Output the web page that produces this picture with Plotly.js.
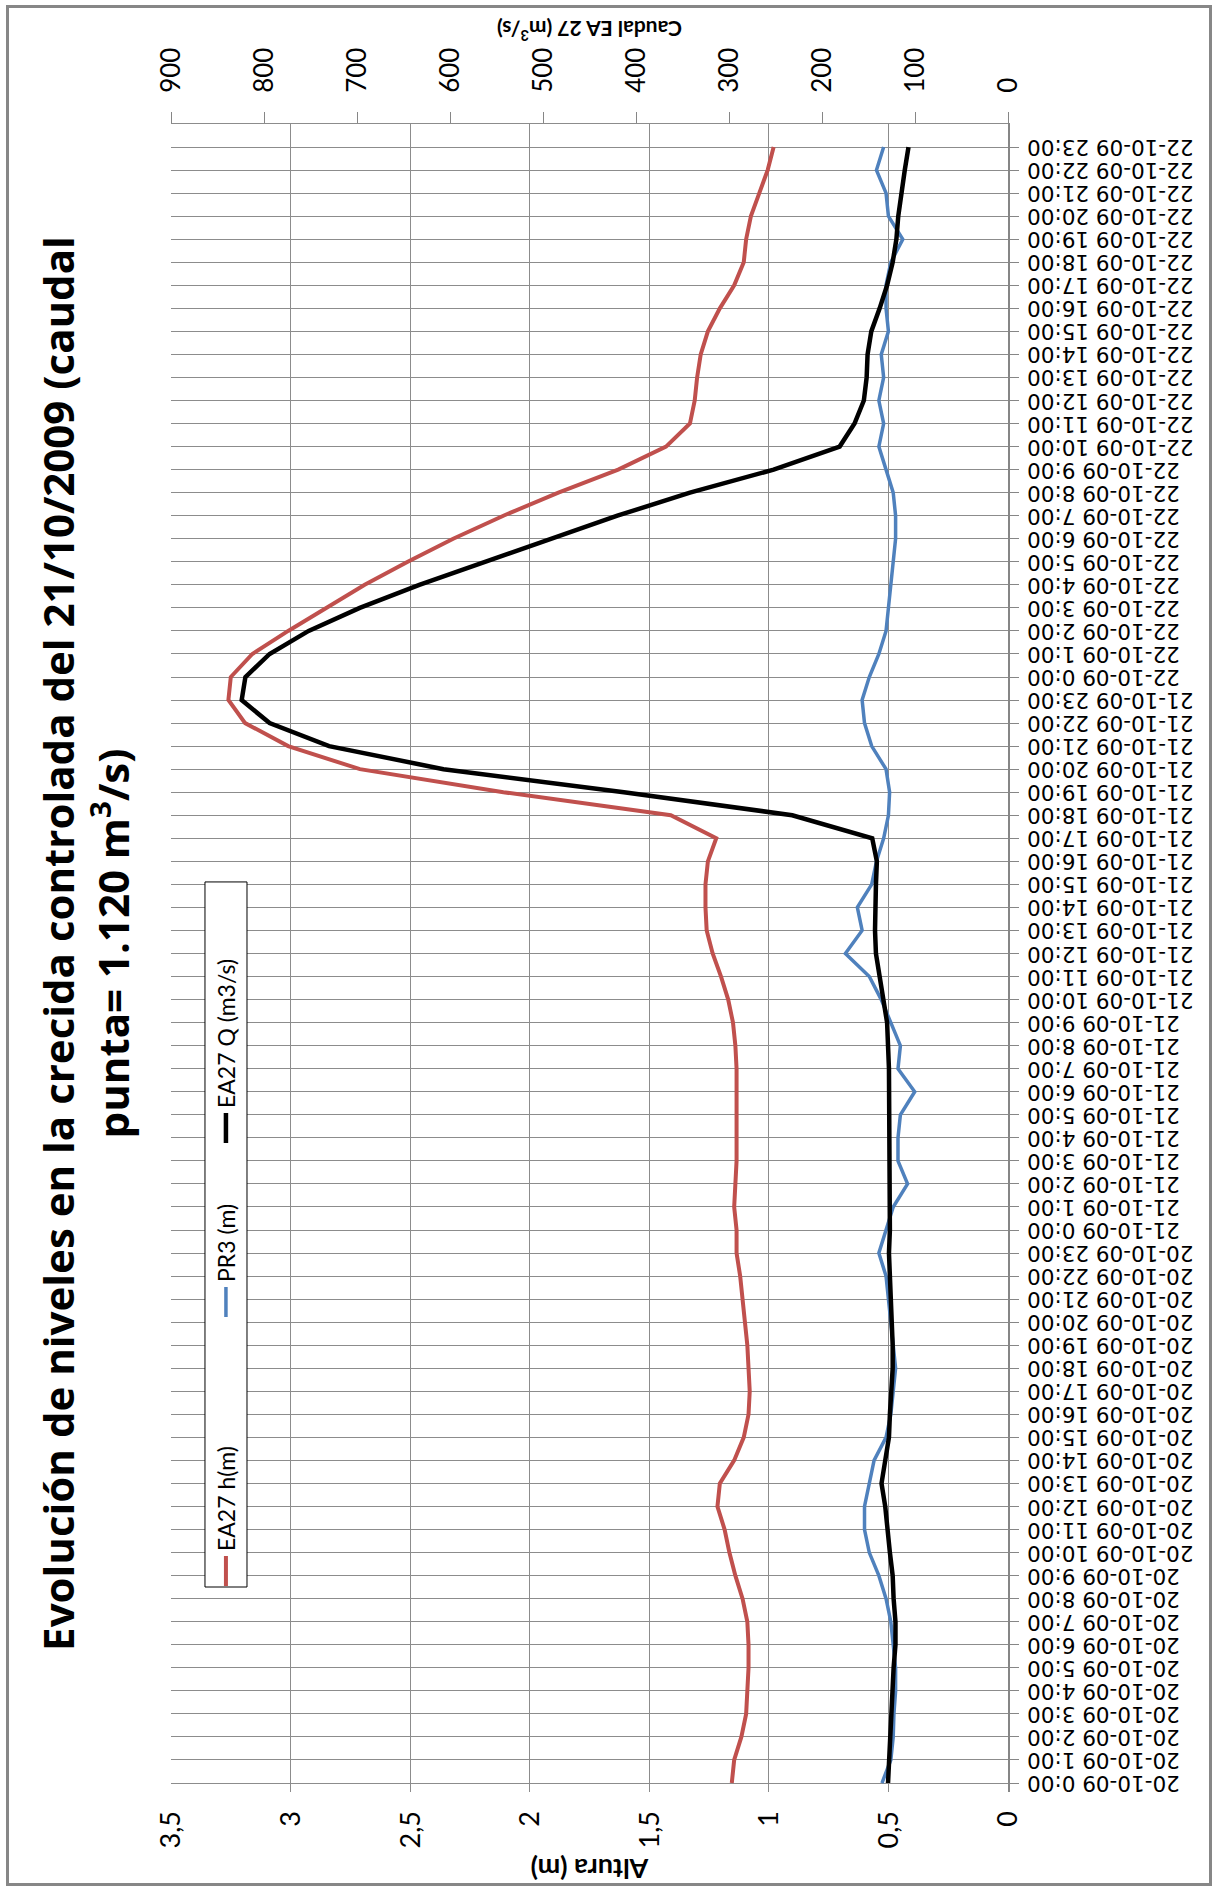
<!DOCTYPE html>
<html>
<head>
<meta charset="utf-8">
<script src="https://cdn.plot.ly/plotly-3.0.1.min.js"></script>
<style>
html,body{margin:0;padding:0;width:1214px;height:1887px;overflow:hidden;background:#fff;}
#frame{position:absolute;left:6px;top:5px;width:1206px;height:1881px;box-sizing:border-box;border:3px solid #878787;z-index:2;pointer-events:none;}
#chart{position:absolute;left:0;top:0;width:1887px;height:1214px;transform-origin:0 0;transform:translateY(1887px) rotate(-90deg);}
</style>
</head>
<body>
<div id="frame"></div>
<div id="chart"></div>
<script>
// Time categories (hourly)
const times = [
"20-10-09 0:00","20-10-09 1:00","20-10-09 2:00","20-10-09 3:00","20-10-09 4:00","20-10-09 5:00",
"20-10-09 6:00","20-10-09 7:00","20-10-09 8:00","20-10-09 9:00","20-10-09 10:00","20-10-09 11:00",
"20-10-09 12:00","20-10-09 13:00","20-10-09 14:00","20-10-09 15:00","20-10-09 16:00","20-10-09 17:00",
"20-10-09 18:00","20-10-09 19:00","20-10-09 20:00","20-10-09 21:00","20-10-09 22:00","20-10-09 23:00",
"21-10-09 0:00","21-10-09 1:00","21-10-09 2:00","21-10-09 3:00","21-10-09 4:00","21-10-09 5:00",
"21-10-09 6:00","21-10-09 7:00","21-10-09 8:00","21-10-09 9:00","21-10-09 10:00","21-10-09 11:00",
"21-10-09 12:00","21-10-09 13:00","21-10-09 14:00","21-10-09 15:00","21-10-09 16:00","21-10-09 17:00",
"21-10-09 18:00","21-10-09 19:00","21-10-09 20:00","21-10-09 21:00","21-10-09 22:00","21-10-09 23:00",
"22-10-09 0:00","22-10-09 1:00","22-10-09 2:00","22-10-09 3:00","22-10-09 4:00","22-10-09 5:00",
"22-10-09 6:00","22-10-09 7:00","22-10-09 8:00","22-10-09 9:00","22-10-09 10:00","22-10-09 11:00",
"22-10-09 12:00","22-10-09 13:00","22-10-09 14:00","22-10-09 15:00","22-10-09 16:00","22-10-09 17:00",
"22-10-09 18:00","22-10-09 19:00","22-10-09 20:00","22-10-09 21:00","22-10-09 22:00","22-10-09 23:00"
];

// EA27 h (m)
const ea27h = [
1.155,1.145,1.115,1.095,1.09,1.085,1.085,1.09,1.11,1.14,1.165,1.185,
1.215,1.205,1.145,1.105,1.085,1.08,1.085,1.09,1.10,1.11,1.12,1.135,
1.135,1.145,1.14,1.135,1.135,1.135,1.135,1.135,1.14,1.15,1.17,1.20,
1.235,1.26,1.265,1.265,1.255,1.22,1.41,2.11,2.71,3.01,3.19,3.26,
3.25,3.16,3.01,2.85,2.69,2.51,2.32,2.11,1.88,1.63,1.43,1.33,
1.31,1.30,1.285,1.255,1.205,1.145,1.105,1.095,1.075,1.04,1.005,0.98
];

// PR3 (m)
const pr3 = [
0.527,0.49,0.48,0.477,0.47,0.47,0.48,0.49,0.51,0.54,0.58,0.60,
0.60,0.58,0.56,0.51,0.49,0.48,0.47,0.48,0.49,0.50,0.51,0.54,
0.51,0.48,0.42,0.46,0.46,0.45,0.39,0.46,0.45,0.49,0.53,0.58,
0.68,0.61,0.63,0.57,0.55,0.52,0.50,0.495,0.51,0.57,0.60,0.61,
0.58,0.54,0.51,0.50,0.49,0.48,0.47,0.47,0.48,0.51,0.54,0.52,
0.54,0.52,0.53,0.50,0.51,0.51,0.49,0.44,0.50,0.51,0.55,0.52
];

// EA27 Q (m3/s)
const ea27q = [
129,128,127,125,124,123,121,121,123,124,127,129,
132,136,132,128,127,125,124,124,125,127,128,128,
127,127,127,127,127,127,127,128,129,130,134,138,
142,143,143,142,141,146,232,413,607,730,794,824,
820,794,752,697,633,562,491,420,342,252,181,165,
155,152,151,147,138,130,124,120,118,115,111,107
];

const seriesNames = ["EA27 h(m)", "PR3 (m)", "EA27 Q (m3/s)"];
const altTicks = [0, 0.5, 1, 1.5, 2, 2.5, 3, 3.5];
const qTicks = [0, 100, 200, 300, 400, 500, 600, 700, 800, 900];

const FONT = "Lato, 'Open Sans', sans-serif";
const TFONT = "'Open Sans', Lato, sans-serif";
const GRID = "#8c8c8c";

const traces = [
  {x: times, y: ea27h, name: seriesNames[0], type: "scatter", mode: "lines",
   line: {color: "#C0504D", width: 4}, yaxis: "y", legend: "legend"},
  {x: times, y: pr3, name: seriesNames[1], type: "scatter", mode: "lines",
   line: {color: "#4F81BD", width: 3.5}, yaxis: "y", legend: "legend2"},
  {x: times, y: ea27q, name: seriesNames[2], type: "scatter", mode: "lines",
   line: {color: "#000000", width: 4.5}, yaxis: "y2", legend: "legend3"}
];

const legBase = {orientation: "h", yanchor: "middle", y: 0.9343, xanchor: "left",
  bgcolor: "rgba(0,0,0,0)", borderwidth: 0, font: {family: FONT, size: 23, color: "#000"}};

const layout = {
  width: 1887, height: 1214,
  margin: {l: 95, r: 124, t: 171, b: 206, pad: 0},
  paper_bgcolor: "#fff", plot_bgcolor: "#fff",
  separators: ",.",
  font: {family: FONT, color: "#000"},
  title: {
    text: "Evolución de niveles en la crecida controlada del 21/10/2009 (caudal<br>punta= 1.120 m<sup>3</sup>/s)",
    font: {family: TFONT, size: 42, color: "#000", weight: "bold"},
    x: 0.5, xref: "container", xanchor: "center",
    y: 1 - 74/1214, yref: "container", yanchor: "top"
  },
  xaxis: {
    type: "category", range: [-0.39, 72],
    tickmode: "linear", tick0: 0, dtick: 1,
    tickangle: -90, ticks: "outside", ticklen: 9, tickcolor: "#868686", tickwidth: 1,
    tickfont: {family: "'DejaVu Sans', sans-serif", size: 21.5, color: "#000"},
    showgrid: true, gridcolor: GRID, gridwidth: 1,
    showline: true, linecolor: "#868686", linewidth: 1.5, mirror: false,
    zeroline: false, automargin: false
  },
  yaxis: {
    range: [0, 3.5], tickvals: altTicks, ticks: "",
    tickfont: {family: FONT, size: 27, color: "#000"},
    ticklabelstandoff: 18,
    showgrid: true, gridcolor: GRID, gridwidth: 1,
    showline: false, zeroline: false, automargin: false,
    title: {text: "Altura (m)", font: {family: FONT, size: 27, color: "#000", weight: "bold"}, standoff: 2}
  },
  yaxis2: {
    overlaying: "y", side: "right", range: [0, 900], tickvals: qTicks,
    ticks: "outside", ticklen: 11, tickcolor: "#868686", tickwidth: 1,
    tickfont: {family: FONT, size: 26, color: "#000"},
    ticklabelstandoff: 14,
    showgrid: false, showline: true, linecolor: GRID, linewidth: 1,
    zeroline: false, automargin: false,
    title: {text: "Caudal EA 27 (m<sup>3</sup>/s)", font: {family: FONT, size: 21, color: "#000", weight: "bold"}, standoff: 12}
  },
  showlegend: true,
  legend: Object.assign({}, legBase, {x: 0.1205}),
  legend2: Object.assign({}, legBase, {x: 0.2818}),
  legend3: Object.assign({}, legBase, {x: 0.3861}),
  shapes: [
    {type: "rect", xref: "paper", yref: "paper", x0: 0.1229, x1: 0.5456, y0: 0.9092, y1: 0.9594,
     fillcolor: "#fff", line: {color: "#000", width: 1}, layer: "above"}
  ]
};

Plotly.newPlot("chart", traces, layout, {displayModeBar: false, staticPlot: true});
</script>
</body>
</html>
